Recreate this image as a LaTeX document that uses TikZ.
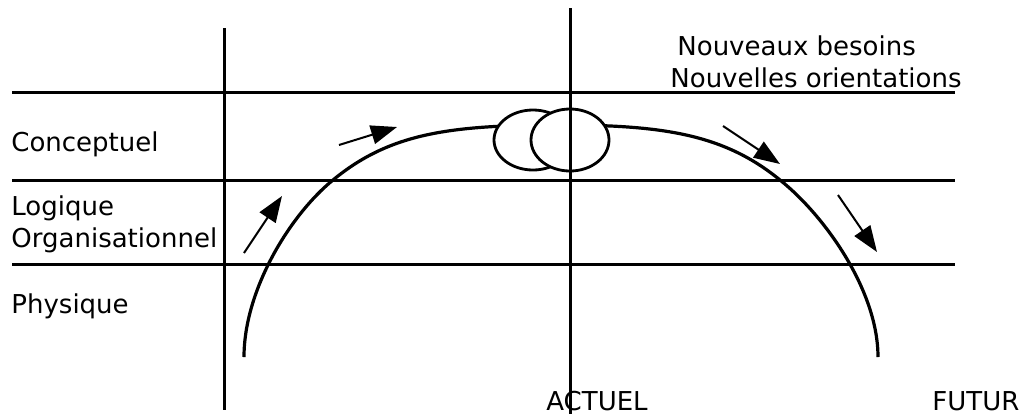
\documentclass[tikz,border=0pt]{standalone}
\usepackage{fontspec}
\setmainfont{DejaVu Sans}
\usetikzlibrary{arrows.meta}

\begin{document}
\begin{tikzpicture}[x=0.5pt, y=-0.5pt,
    lbl/.style={anchor=base west, inner sep=0pt, font=\fontsize{13}{15}\selectfont},
    flow/.style={line width=1pt, -{Triangle[length=13pt, width=9.5pt]}}]
\useasboundingbox (0,0) rectangle (1024,414);

% Level separators
\draw[line width=1.5pt] (12,92) -- (955,92);
\draw[line width=1.5pt] (12,180) -- (955,180);
\draw[line width=1.5pt] (12,264) -- (955,264);

% Life cycle curve
\draw[line width=1.6pt] (244,357) .. controls (244,290) and (290,215) .. (333,180)
    .. controls (390,133) and (450,125) .. (561,125)
    .. controls (665,125) and (725,135) .. (780,180)
    .. controls (824,215) and (878,290) .. (878,357);

% Overlapping ellipses
\draw[line width=1.4pt, fill=white] (533,140) ellipse (19.5pt and 15pt);
\draw[line width=1.4pt, fill=white] (570,140) ellipse (19.5pt and 15.5pt);

% Time axes
\draw[line width=1.5pt] (224,28) -- (224,410);
\draw[line width=1.5pt] (570,8) -- (570,414);

% Direction arrows
\draw[flow] (244,253) -- (282,196);
\draw[flow] (339,145) -- (397,127);
\draw[flow] (723,126) -- (780,164);
\draw[flow] (838,195) -- (877,252);

% Labels
\node[lbl] (conc) at (11,151) {Conceptuel};
\node[lbl] (logi) at (11,215) {Logique};
\node[lbl] (orga) at (11,247) {Organisationnel};
\node[lbl] (phys) at (11,313) {Physique};
\node[lbl] (besoins) at (677,55) {Nouveaux besoins};
\node[lbl] (orient) at (670,87) {Nouvelles orientations};
\node[lbl] (actuel) at (546,410) {ACTUEL};
\node[lbl] (futur) at (932,410) {FUTUR};

\end{tikzpicture}
\end{document}
